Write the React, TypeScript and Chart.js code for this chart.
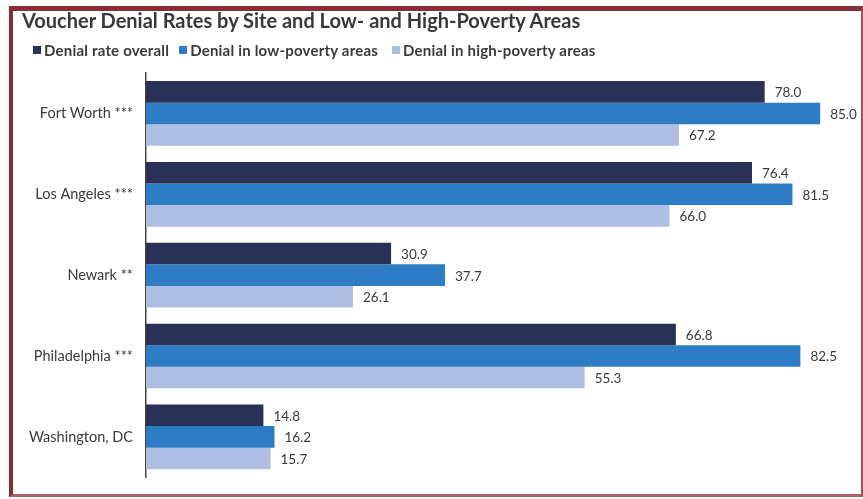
import React, { useEffect, useRef } from "react";
import { Chart, registerables } from "chart.js";

Chart.register(...registerables);

const TITLE = "Voucher Denial Rates by Site and Low- and High-Poverty Areas";
const categories = ["Fort Worth ***", "Los Angeles ***", "Newark **", "Philadelphia ***", "Washington, DC"];
const seriesNames = ["Denial rate overall", "Denial in low-poverty areas", "Denial in high-poverty areas"];
const overall = [78.0, 76.4, 30.9, 66.8, 14.8];
const lowPoverty = [85.0, 81.5, 37.7, 82.5, 16.2];
const highPoverty = [67.2, 66.0, 26.1, 55.3, 15.7];
const colors = ["#2a3156", "#2e7cc3", "#aebde2"];

const FONT = "Lato, 'Open Sans', sans-serif";

const valueLabels = {
  id: "valueLabels",
  afterDatasetsDraw(chart: any) {
    const ctx = chart.ctx;
    ctx.save();
    ctx.font = `13.5px ${FONT}`;
    ctx.fillStyle = "#3a3a3a";
    ctx.textAlign = "left";
    ctx.textBaseline = "middle";
    chart.data.datasets.forEach((ds: any, i: number) => {
      const meta = chart.getDatasetMeta(i);
      meta.data.forEach((el: any, j: number) => {
        ctx.fillText(Number(ds.data[j]).toFixed(1), el.x + 10, el.y + 1);
      });
    });
    ctx.restore();
  },
};

export default function App() {
  const ref = useRef<HTMLCanvasElement>(null);
  useEffect(() => {
    if (!ref.current) return;
    const chart = new Chart(ref.current, {
      type: "bar",
      data: {
        labels: categories,
        datasets: [overall, lowPoverty, highPoverty].map((d, i) => ({
          label: seriesNames[i],
          data: d,
          backgroundColor: colors[i],
          borderWidth: 0,
          categoryPercentage: 0.8,
          barPercentage: 1.0,
        })),
      },
      options: {
        indexAxis: "y",
        animation: false,
        responsive: true,
        maintainAspectRatio: false,
        layout: { padding: { top: 73, bottom: 13, left: 0, right: 19 } },
        plugins: {
          legend: { display: false },
          title: { display: false },
          tooltip: { enabled: false },
        },
        scales: {
          x: { display: false, min: 0, max: 88 },
          y: {
            afterFit(scale: any) {
              scale.width = 146;
            },
            grid: { display: false, drawTicks: false },
            border: { display: true, color: "#444", width: 1.5 },
            ticks: {
              padding: 13,
              color: "#3a3a3a",
              font: { family: FONT, size: 14.5 },
            },
          },
        },
      },
      plugins: [valueLabels],
    });
    return () => chart.destroy();
  }, []);

  return (
    <div style={{ position: "fixed", left: 0, top: 0, width: 863, height: 499, background: "#fff", overflow: "hidden" }}>
      <div
        style={{
          position: "absolute",
          left: 9,
          top: 6,
          width: 863 - 9,
          height: 497 - 6,
          boxSizing: "border-box",
          borderLeft: "4px solid #8a2e36",
          borderTop: "5px solid #8a2e36",
          borderBottom: "3px solid #b06068",
          borderRight: "2px solid #a05058",
        }}
      />
      <div style={{ position: "absolute", left: 0, top: 0, width: 863, height: 499 }}>
        <canvas ref={ref} />
      </div>
      <div
        style={{
          position: "absolute",
          left: 22,
          top: 8,
          fontFamily: FONT,
          fontWeight: 700,
          fontSize: 20,
          lineHeight: 1.2,
          color: "#383838",
          whiteSpace: "nowrap",
        }}
      >
        {TITLE}
      </div>
      <div
        style={{
          position: "absolute",
          left: 33,
          top: 41,
          display: "flex",
          alignItems: "center",
          fontFamily: FONT,
          fontWeight: 700,
          fontSize: 15,
          letterSpacing: 0.2,
          lineHeight: 1.2,
          color: "#3a3a3a",
          whiteSpace: "nowrap",
        }}
      >
        {seriesNames.map((n, i) => (
          <div key={n} style={{ display: "flex", alignItems: "center", marginRight: i === 0 ? 10 : 14 }}>
            <span style={{ display: "inline-block", width: 8, height: 8, background: colors[i], marginRight: 3 }} />
            <span>{n}</span>
          </div>
        ))}
      </div>
    </div>
  );
}
